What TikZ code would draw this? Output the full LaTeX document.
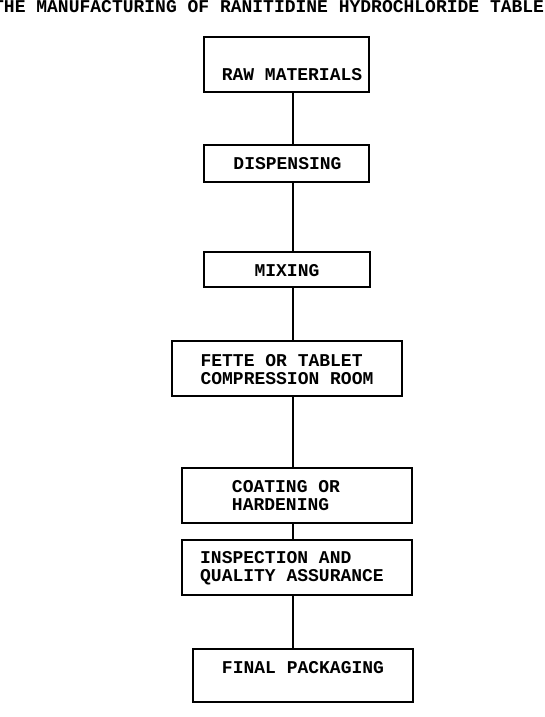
\documentclass[tikz,border=0pt]{standalone}
\usepackage{fontspec}
\setmainfont{Liberation Mono}
\usepackage{tikz}
\usetikzlibrary{positioning,calc}

\begin{document}
\begin{tikzpicture}[
  x=1pt, y=-1pt,
  every node/.style={font=\bfseries\fontsize{18}{18}\selectfont, inner sep=0pt},
  stepbox/.style={draw, line width=1.3pt, minimum width=#1},
  stepbox/.default=165pt,
  steptext/.style={align=left},
  link/.style={line width=1.3pt}
]
\useasboundingbox (0,0) rectangle (544,717);

\node[anchor=base west] (title) at (-7,12.5) {THE MANUFACTURING OF RANITIDINE HYDROCHLORIDE TABLE};

% process steps
\node[stepbox, minimum height=55pt] (raw) at (286.5,64.5) {};
\node[stepbox, minimum height=37pt] (disp) at (286.5,163.5) {};
\node[stepbox=166pt, minimum height=35pt] (mix) at (287,269.5) {};
\node[stepbox=230pt, minimum height=55pt] (fette) at (287,368.5) {};
\node[stepbox=230pt, minimum height=55pt] (coat) at (297,495.5) {};
\node[stepbox=230pt, minimum height=55pt] (insp) at (297,567.5) {};
\node[stepbox=220pt, minimum height=53pt] (final) at (303,675.5) {};

\node[steptext] (rawtxt) at ([shift={(5.5,10.5)}]raw.center) {RAW MATERIALS};
\node[steptext] (disptxt) at ([shift={(1,0)}]disp.center) {DISPENSING};
\node[steptext] (mixtxt) at ([shift={(0,1)}]mix.center) {MIXING};
\node[steptext] (fettetxt) at ([shift={(0,1)}]fette.center) {FETTE OR TABLET\\COMPRESSION ROOM};
\node[steptext] (coattxt) at ([shift={(-11,0.5)}]coat.center) {COATING OR\\HARDENING};
\node[steptext] (insptxt) at ([shift={(-5,0.5)}]insp.center) {INSPECTION AND\\QUALITY ASSURANCE};
\node[steptext] (finaltxt) at ([shift={(0,-7.5)}]final.center) {FINAL PACKAGING};

\coordinate (spine) at (293,0);

\draw[link] (raw.south -| spine) -- (disp.north -| spine);
\draw[link] (disp.south -| spine) -- (mix.north -| spine);
\draw[link] (mix.south -| spine) -- (fette.north -| spine);
\draw[link] (fette.south -| spine) -- (coat.north -| spine);
\draw[link] (coat.south -| spine) -- (insp.north -| spine);
\draw[link] (insp.south -| spine) -- (final.north -| spine);

\end{tikzpicture}
\end{document}
